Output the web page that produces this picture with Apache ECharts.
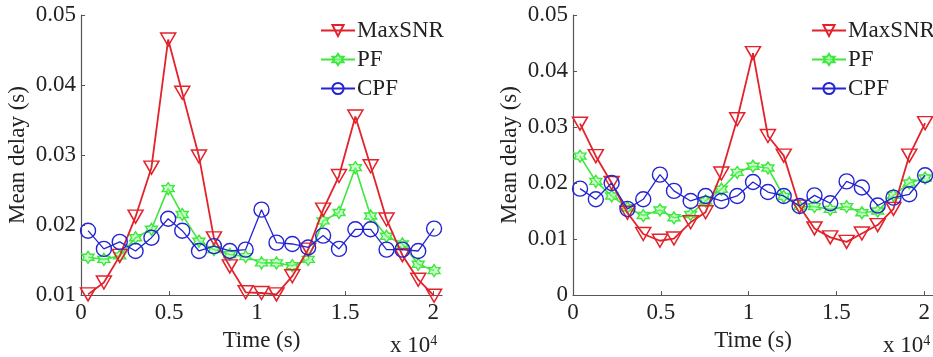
<!DOCTYPE html>
<html>
<head>
<meta charset="utf-8">
<script src="https://cdn.jsdelivr.net/npm/echarts@6/dist/echarts.min.js"></script>
<style>
html,body{margin:0;padding:0;background:#fff;}
#chart{width:933px;height:357px;}
</style>
</head>
<body>
<div id="chart"></div>
<script>
// ---- data ----
const timeSec = [400, 1300, 2200, 3100, 4000, 4950, 5750, 6700, 7550, 8450, 9350, 10250,
                 11100, 12000, 12900, 13750, 14650, 15580, 16450, 17350, 18250, 19150, 20050];
const seriesNames = ['MaxSNR', 'PF', 'CPF'];
const xTickLabels = ['0', '0.5', '1', '1.5', '2'];

// left panel
const leftMaxSNR = [0.0101, 0.0118, 0.0156, 0.0212, 0.0282, 0.0465, 0.0389, 0.0298, 0.0181, 0.0141, 0.0104, 0.0103,
                    0.0101, 0.0127, 0.0165, 0.0222, 0.0270, 0.0355, 0.0284, 0.0208, 0.0157, 0.0122, 0.0099];
const leftPF     = [0.0154, 0.0151, 0.0156, 0.0182, 0.0194, 0.0252, 0.0215, 0.0177, 0.0165, 0.0158, 0.0155, 0.0146,
                    0.0146, 0.0142, 0.0151, 0.0206, 0.0218, 0.0282, 0.0213, 0.0184, 0.0173, 0.0144, 0.0135];
const leftCPF    = [0.0192, 0.0166, 0.0176, 0.0163, 0.0182, 0.0209, 0.0192, 0.0163, 0.0170, 0.0163, 0.0165, 0.0222,
                    0.0175, 0.0173, 0.0168, 0.0185, 0.0166, 0.0194, 0.0194, 0.0165, 0.0165, 0.0163, 0.0195];

// right panel
const rightMaxSNR = [0.0306, 0.0248, 0.0200, 0.0147, 0.0109, 0.0097, 0.0101, 0.0130, 0.0148, 0.0217, 0.0314, 0.0432,
                     0.0284, 0.0249, 0.0158, 0.0119, 0.0103, 0.0095, 0.0110, 0.0125, 0.0154, 0.0249, 0.0307];
const rightPF     = [0.0248, 0.0203, 0.0177, 0.0156, 0.0142, 0.0152, 0.0138, 0.0144, 0.0168, 0.0189, 0.0219, 0.0230,
                     0.0227, 0.0176, 0.0158, 0.0158, 0.0153, 0.0158, 0.0147, 0.0150, 0.0178, 0.0200, 0.0209];
const rightCPF    = [0.0190, 0.0171, 0.0200, 0.0154, 0.0171, 0.0215, 0.0186, 0.0168, 0.0177, 0.0168, 0.0177, 0.0202,
                     0.0184, 0.0177, 0.0159, 0.0178, 0.0164, 0.0203, 0.0192, 0.0160, 0.0174, 0.0180, 0.0214];

// ---- styling ----
const FONT = "'Liberation Serif', 'Times New Roman', Times, serif";
const FS = 23;
const RED = '#e3222b', GREEN = '#3ee63e', BLUE = '#2424d4';
const AXIS = '#555';
const HEX = 'path://M0,-10L2.885,-5L8.66,-5L5.77,0L8.66,5L2.885,5L0,10L-2.885,5L-8.66,5L-5.77,0L-8.66,-5L-2.885,-5Z';

function zip(ys){ return timeSec.map((t,i)=>[t, ys[i]]); }

function xAxisFor(gi){
  return {
    type:'value', gridIndex:gi, min:0, max:20500, interval:5000,
    name:'Time (s)', nameLocation:'middle', nameGap:29,
    nameTextStyle:{fontFamily:FONT, fontSize:FS, color:'#222'},
    axisLine:{show:true, lineStyle:{color:AXIS, width:1.2}},
    axisTick:{show:true, inside:true, length:4, lineStyle:{color:AXIS}},
    axisLabel:{fontFamily:FONT, fontSize:FS, color:'#222', margin:6, showMaxLabel:false,
      formatter:(v)=>{ const k = Math.round(v/5000); return (v % 5000 === 0 && k < xTickLabels.length) ? xTickLabels[k] : ''; }},
    splitLine:{show:false}
  };
}
function yAxisFor(gi, min){
  return {
    type:'value', gridIndex:gi, min:min, max:0.05, interval:0.01,
    name:'Mean delay (s)', nameLocation:'middle', nameGap:52,
    nameTextStyle:{fontFamily:FONT, fontSize:FS, color:'#222'},
    axisLine:{show:true, lineStyle:{color:AXIS, width:1.2}},
    axisTick:{show:true, inside:true, length:4, lineStyle:{color:AXIS}},
    axisLabel:{fontFamily:FONT, fontSize:FS, color:'#222', margin:5,
      formatter:(v)=> Math.abs(v) < 1e-9 ? '0' : v.toFixed(2)},
    splitLine:{show:false}
  };
}
function lineSeries(name, gi, ys){
  const base = {name:name, type:'line', xAxisIndex:gi, yAxisIndex:gi, data:zip(ys),
    clip:false, animation:false, showAllSymbol:true, z: name==='MaxSNR'?3:(name==='PF'?2:4)};
  if(name==='MaxSNR'){
    return Object.assign(base, {symbol:'triangle', symbolRotate:180, symbolSize:[15,13],
      lineStyle:{color:RED, width:1.8},
      itemStyle:{color:'rgba(255,255,255,0)', borderColor:RED, borderWidth:1.5}});
  } else if(name==='PF'){
    return Object.assign(base, {symbol:HEX, symbolSize:12,
      lineStyle:{color:GREEN, width:1.6},
      itemStyle:{color:'rgba(140,255,140,0.45)', borderColor:GREEN, borderWidth:1.4}});
  }
  return Object.assign(base, {symbol:'circle', symbolSize:15,
    lineStyle:{color:BLUE, width:1.3},
    itemStyle:{color:'rgba(255,255,255,0)', borderColor:BLUE, borderWidth:1.4}});
}
function legendAt(left){
  return {orient:'vertical', left:left, top:14, itemWidth:34, itemHeight:14, itemGap:6,
    data:seriesNames, selectedMode:false,
    textStyle:{fontFamily:FONT, fontSize:FS, color:'#222', lineHeight:22, padding:[0,0,0,-3]}};
}

const chart = echarts.init(document.getElementById('chart'), null, {renderer:'canvas'});
chart.setOption({
  backgroundColor:'#fff',
  animation:false,
  grid:[
    {left:81, top:15, width:361, height:281},
    {left:573, top:15, width:360, height:281}
  ],
  xAxis:[xAxisFor(0), xAxisFor(1)],
  yAxis:[yAxisFor(0, 0.01), yAxisFor(1, 0)],
  legend:[legendAt(315), legendAt(806)],
  series:[
    lineSeries('MaxSNR',0,leftMaxSNR), lineSeries('PF',0,leftPF), lineSeries('CPF',0,leftCPF),
    lineSeries('MaxSNR',1,rightMaxSNR), lineSeries('PF',1,rightPF), lineSeries('CPF',1,rightCPF)
  ],
  graphic:[
    {type:'text', left:390, top:334, style:{text:'x 10{s|4}', fontFamily:FONT, fontSize:FS, fill:'#222',
      rich:{s:{fontFamily:FONT, fontSize:14, verticalAlign:'top', padding:[0,0,10,0]}}}},
    {type:'text', left:883, top:334, style:{text:'x 10{s|4}', fontFamily:FONT, fontSize:FS, fill:'#222',
      rich:{s:{fontFamily:FONT, fontSize:14, verticalAlign:'top', padding:[0,0,10,0]}}}}
  ]
});
</script>
</body>
</html>
